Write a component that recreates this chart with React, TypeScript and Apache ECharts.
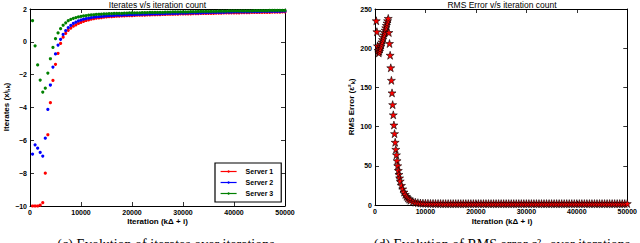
import React, { useEffect, useRef } from "react";
import * as echarts from "echarts";

// ---------- Data ----------
const ITER_STEP = 500; // iterate samples every 500 iterations, starting at 500
const server1 = [
  -10, -10, -10, -9.95, -9.8, -8.0, -5.66, -3.71, -2.35, -1.37,
  -0.7, -0.1, 0.28, 0.52, 0.7, 0.84, 0.95, 1.04, 1.12, 1.19,
  1.25, 1.3, 1.34, 1.38, 1.41, 1.44, 1.46, 1.48, 1.5, 1.52,
  1.53, 1.54, 1.55, 1.56, 1.57, 1.58, 1.58, 1.59, 1.6, 1.6,
  1.61, 1.62, 1.62, 1.63, 1.63, 1.64, 1.64, 1.65, 1.65, 1.66,
  1.66, 1.67, 1.67, 1.68, 1.68, 1.68, 1.69, 1.69, 1.7, 1.7,
  1.7, 1.71, 1.71, 1.72, 1.72, 1.72, 1.73, 1.73, 1.73, 1.74,
  1.74, 1.74, 1.75, 1.75, 1.75, 1.76, 1.76, 1.76, 1.77, 1.77,
  1.77, 1.77, 1.78, 1.78, 1.78, 1.78, 1.79, 1.79, 1.79, 1.79,
  1.8, 1.8, 1.8, 1.8, 1.81, 1.81, 1.81, 1.81, 1.82, 1.82,
];
const server2 = [
  -6.84, -6.27, -6.48, -6.74, -6.96, -5.87, -4.12, -2.63, -1.54, -0.74,
  -0.2, 0.15, 0.45, 0.68, 0.86, 1.0, 1.12, 1.2, 1.27, 1.33,
  1.38, 1.42, 1.45, 1.48, 1.5, 1.52, 1.54, 1.55, 1.57, 1.58,
  1.59, 1.6, 1.61, 1.62, 1.62, 1.63, 1.64, 1.64, 1.65, 1.66,
  1.66, 1.67, 1.67, 1.68, 1.68, 1.69, 1.69, 1.7, 1.7, 1.71,
  1.71, 1.72, 1.72, 1.73, 1.73, 1.73, 1.74, 1.74, 1.75, 1.75,
  1.75, 1.76, 1.76, 1.76, 1.77, 1.77, 1.77, 1.78, 1.78, 1.78,
  1.79, 1.79, 1.79, 1.8, 1.8, 1.8, 1.81, 1.81, 1.81, 1.82,
  1.82, 1.82, 1.82, 1.83, 1.83, 1.83, 1.84, 1.84, 1.84, 1.84,
  1.85, 1.85, 1.85, 1.85, 1.86, 1.86, 1.86, 1.86, 1.87, 1.87,
];
const server3 = [
  1.29, -0.24, -1.41, -2.33, -3.06, -2.82, -1.9, -1.03, -0.34, 0.19,
  0.54, 0.8, 1.01, 1.16, 1.29, 1.37, 1.43, 1.48, 1.52, 1.55,
  1.58, 1.6, 1.62, 1.64, 1.65, 1.67, 1.68, 1.69, 1.7, 1.71,
  1.72, 1.72, 1.73, 1.73, 1.74, 1.74, 1.75, 1.75, 1.76, 1.76,
  1.77, 1.77, 1.77, 1.78, 1.78, 1.78, 1.79, 1.79, 1.79, 1.8,
  1.8, 1.8, 1.81, 1.81, 1.81, 1.82, 1.82, 1.82, 1.83, 1.83,
  1.83, 1.83, 1.84, 1.84, 1.84, 1.85, 1.85, 1.85, 1.85, 1.86,
  1.86, 1.86, 1.86, 1.87, 1.87, 1.87, 1.87, 1.88, 1.88, 1.88,
  1.88, 1.88, 1.89, 1.89, 1.89, 1.89, 1.89, 1.9, 1.9, 1.9,
  1.9, 1.9, 1.9, 1.91, 1.91, 1.91, 1.91, 1.91, 1.92, 1.92,
];

const rmsIter = [
  250, 375, 500, 625, 750, 875, 1000, 1125, 1250, 1375,
  1500, 1625, 1750, 1875, 2000, 2125, 2250, 2375, 2500, 2625,
  2750, 2875, 3000, 3125, 3250, 3375, 3500, 3625, 3750, 3875,
  4000, 4125, 4250, 4375, 4500, 4625, 4750, 4875, 5000, 5250,
  5500, 5750, 6000, 6250, 6500, 6750, 7000, 7500, 8000, 8500,
  9000, 9500, 10000, 10500, 11000, 11500, 12000, 12500, 13000, 13500,
  14000, 14500, 15000, 15500, 16000, 16500, 17000, 17500, 18000, 18500,
  19000, 19500, 20000, 20500, 21000, 21500, 22000, 22500, 23000, 23500,
  24000, 24500, 25000, 25500, 26000, 26500, 27000, 27500, 28000, 28500,
  29000, 29500, 30000, 30500, 31000, 31500, 32000, 32500, 33000, 33500,
  34000, 34500, 35000, 35500, 36000, 36500, 37000, 37500, 38000, 38500,
  39000, 39500, 40000, 40500, 41000, 41500, 42000, 42500, 43000, 43500,
  44000, 44500, 45000, 45500, 46000, 46500, 47000, 47500, 48000, 48500,
  49000, 49500, 50000,
];
const rmsValue = [
  235, 221, 203, 197, 194, 196, 199, 202, 205, 208,
  211, 214, 217, 220, 223, 226, 229, 232, 235, 238,
  220, 206, 191, 175, 159, 143, 128, 115, 102, 91,
  80, 71, 64, 56.5, 50, 44, 39, 34.5, 30.5, 25,
  20.5, 16.5, 13.5, 11, 9, 7.5, 6, 4.5, 3.5, 2.9,
  2.5, 2.3, 2.2, 2.1, 2.0, 2.0, 1.9, 1.9, 1.9, 1.8,
  1.8, 1.8, 1.8, 1.8, 1.8, 1.8, 1.8, 1.8, 1.8, 1.8,
  1.8, 1.8, 1.8, 1.8, 1.8, 1.8, 1.8, 1.8, 1.8, 1.8,
  1.8, 1.8, 1.8, 1.8, 1.8, 1.8, 1.8, 1.8, 1.8, 1.8,
  1.8, 1.8, 1.8, 1.8, 1.8, 1.8, 1.8, 1.8, 1.8, 1.8,
  1.8, 1.8, 1.8, 1.8, 1.8, 1.8, 1.8, 1.8, 1.8, 1.8,
  1.8, 1.8, 1.8, 1.8, 1.8, 1.8, 1.8, 1.8, 1.8, 1.8,
  1.8, 1.8, 1.8, 1.8, 1.8, 1.8, 1.8, 1.8, 1.8, 1.8,
  1.8, 1.8, 1.8,
];

const serverNames = ["Server 1", "Server 2", "Server 3"];
const serverColors = ["#ff0000", "#0000ff", "#008000"];

const STAR =
  "path://M0,-1L0.2245,-0.309L0.951,-0.309L0.363,0.118L0.588,0.809L0,0.382L-0.588,0.809L-0.363,0.118L-0.951,-0.309L-0.2245,-0.309Z";

const SANS = "Liberation Sans";
const SERIF = "Liberation Serif";

function axisPair(gridIndex: number, min: number, max: number, interval: number, isX: boolean) {
  const base = {
    gridIndex,
    type: "value",
    min,
    max,
    interval,
    splitLine: { show: false },
    axisLine: { show: true, onZero: false, lineStyle: { color: "#000", width: 1 } },
    axisTick: { show: true, inside: true, length: 4, lineStyle: { color: "#000", width: 0.8 } },
  };
  const label = {
    show: true,
    color: "#000",
    fontSize: 7,
    fontWeight: "bold",
    fontFamily: SANS,
    margin: 3,
    formatter: (v: number) => (v < 0 ? "\u2212" + String(-v) : String(v)),
  };
  return [
    { ...base, position: isX ? "bottom" : "left", axisLabel: label },
    { ...base, position: isX ? "top" : "right", axisLabel: { show: false } },
  ];
}

export default function App() {
  const ref = useRef<HTMLDivElement>(null);
  useEffect(() => {
    if (!ref.current) return;
    const chart = echarts.init(ref.current, null, { renderer: "svg" });

    const iterSeries = [server1, server2, server3].map((vals, si) => ({
      name: serverNames[si],
      type: "line",
      xAxisIndex: 0,
      yAxisIndex: 0,
      data: vals.map((v, i) => [(i + 1) * ITER_STEP, v]),
      symbol: "circle",
      symbolSize: 3.2,
      showSymbol: true,
      showAllSymbol: true,
      lineStyle: { width: 0, opacity: 0 },
      itemStyle: { color: serverColors[si], borderWidth: 0 },
      z: 2 + si,
    }));

    const rmsSeries = {
      name: "RMS",
      type: "scatter",
      xAxisIndex: 2,
      yAxisIndex: 2,
      data: rmsIter.map((x, i) => [x, rmsValue[i]]),
      symbol: STAR,
      symbolSize: 8,
      itemStyle: { color: "#ff0000", borderColor: "#000", borderWidth: 0.6, opacity: 1 },
      z: 3,
    };

    const xL = axisPair(0, 0, 50000, 10000, true);
    const yL = axisPair(0, -10, 2, 2, false);
    const xR = axisPair(1, 0, 50000, 10000, true);
    const yR = axisPair(1, 0, 250, 50, false);

    const option: any = {
      animation: false,
      backgroundColor: "#fff",
      grid: [
        { left: 30, top: 9, width: 255, height: 197 },
        { left: 375, top: 9, width: 254, height: 196 },
      ],
      xAxis: [...xL, ...xR],
      yAxis: [...yL, ...yR],
      legend: {
        data: serverNames,
        orient: "vertical",
        left: 215,
        top: 163,
        padding: [5, 8, 5, 5],
        itemGap: 4,
        itemWidth: 16,
        itemHeight: 3,
        borderColor: "#000",
        borderWidth: 1.2,
        backgroundColor: "#fff",
        itemStyle: { opacity: 1 },
        lineStyle: { width: 1.2, opacity: 1 },
        textStyle: { fontSize: 7, fontWeight: "bold", fontFamily: SANS, color: "#000", padding: [0, 0, 0, 4] },
      },
      graphic: [
        {
          type: "text",
          x: 157.5,
          y: 4.6,
          style: {
            text: "Iterates v/s iteration count",
            font: `8.5px "${SANS}"`,
            fill: "#000",
            textAlign: "center",
            textVerticalAlign: "middle",
          },
        },
        {
          type: "text",
          x: 502,
          y: 4.6,
          style: {
            text: "RMS Error v/s iteration count",
            font: `8.5px "${SANS}"`,
            fill: "#000",
            textAlign: "center",
            textVerticalAlign: "middle",
          },
        },
        {
          type: "text",
          x: 157.5,
          y: 221,
          style: {
            text: "Iteration (kΔ + i)",
            font: `bold 8px "${SANS}"`,
            fill: "#000",
            textAlign: "center",
            textVerticalAlign: "middle",
          },
        },
        {
          type: "text",
          x: 502,
          y: 221,
          style: {
            text: "Iteration (kΔ + i)",
            font: `bold 8px "${SANS}"`,
            fill: "#000",
            textAlign: "center",
            textVerticalAlign: "middle",
          },
        },
        {
          type: "text",
          x: 6,
          y: 107,
          rotation: Math.PI / 2,
          style: {
            text: "Iterates (xʲᵢ,ₖ)",
            font: `bold 8px "${SANS}"`,
            fill: "#000",
            textAlign: "center",
            textVerticalAlign: "middle",
          },
        },
        {
          type: "text",
          x: 351,
          y: 107,
          rotation: Math.PI / 2,
          style: {
            text: "RMS Error (ε²ₖ)",
            font: `bold 8px "${SANS}"`,
            fill: "#000",
            textAlign: "center",
            textVerticalAlign: "middle",
          },
        },
        {
          type: "text",
          x: 166,
          y: 237,
          style: {
            text: "(c) Evolution of iterates over iterations",
            font: `14px "${SERIF}"`,
            fill: "#000",
            textAlign: "center",
            textVerticalAlign: "top",
          },
        },
        {
          type: "text",
          x: 502,
          y: 237,
          style: {
            text: "(d) Evolution of RMS error ε²ₖ over iterations",
            font: `14px "${SERIF}"`,
            fill: "#000",
            textAlign: "center",
            textVerticalAlign: "top",
          },
        },
      ],
      series: [...iterSeries, rmsSeries],
    };
    chart.setOption(option);
    return () => chart.dispose();
  }, []);
  return (
    <div
      ref={ref}
      style={{ position: "fixed", left: 0, top: 0, width: 640, height: 243, background: "#fff" }}
    />
  );
}
